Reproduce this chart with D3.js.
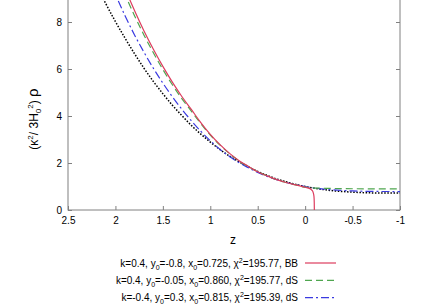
<!DOCTYPE html>
<html>
<head>
<meta charset="utf-8">
<script src="https://cdn.jsdelivr.net/npm/d3@7"></script>
<style>
body { margin: 0; background: #fff; }
text { font-family: "Liberation Sans", Arial, sans-serif; fill: #000; }
</style>
</head>
<body>
<div id="chart"></div>
<script>
// Energy density vs redshift
const width = 436;
const height = 305;

const zRed = [2.0, 1.9, 1.8, 1.7, 1.6, 1.5, 1.4, 1.3, 1.2, 1.1, 1.0, 0.9, 0.8, 0.7, 0.6, 0.5, 0.4, 0.3, 0.2, 0.1, 0,
    -0.05, -0.07, -0.085, -0.093, -0.096, -0.097];
const rhoRed = [10.45, 9.44, 8.5, 7.63, 6.84, 6.11, 5.44, 4.83, 4.28, 3.72, 3.22, 2.79, 2.42, 2.11, 1.86, 1.63, 1.45, 1.29, 1.17, 1.07, 0.97,
    0.91, 0.85, 0.74, 0.58, 0.32, 0];

const zGreen = [2.0, 1.9, 1.8, 1.7, 1.6, 1.5, 1.4, 1.3, 1.2, 1.1, 1.0, 0.9, 0.8, 0.7, 0.6, 0.5, 0.4, 0.3, 0.2, 0.1, 0,
    -0.25, -0.5, -0.75, -1];
const rhoGreen = [10.15, 9.18, 8.28, 7.45, 6.69, 5.98, 5.33, 4.74, 4.21, 3.68, 3.19, 2.77, 2.41, 2.1, 1.85, 1.63, 1.45, 1.29, 1.17, 1.07, 0.97,
    0.92, 0.905, 0.9, 0.9];

const zBlue = [2.1, 2.0, 1.9, 1.8, 1.7, 1.6, 1.5, 1.4, 1.3, 1.2, 1.1, 1.0, 0.9, 0.8, 0.7, 0.6, 0.5, 0.4, 0.3, 0.2, 0.1, 0,
    -0.25, -0.5, -0.75, -1];
const rhoBlue = [10.16, 9.18, 8.28, 7.46, 6.72, 6.03, 5.4, 4.82, 4.29, 3.8, 3.35, 2.95, 2.59, 2.29, 2.02, 1.8, 1.6, 1.43, 1.29, 1.17, 1.08, 1.0,
    0.87, 0.81, 0.79, 0.785];

const zBlack = [2.3, 2.2, 2.1, 2.0, 1.9, 1.8, 1.7, 1.6, 1.5, 1.4, 1.3, 1.2, 1.1, 1.0, 0.9, 0.8, 0.7, 0.6, 0.5, 0.4, 0.3, 0.2, 0.1, 0,
    -0.25, -0.5, -0.75, -1];
const rhoBlack = [10.43, 9.58, 8.77, 8.02, 7.32, 6.66, 6.04, 5.47, 4.95, 4.46, 4.02, 3.6, 3.23, 2.89, 2.58, 2.3, 2.06, 1.84, 1.64, 1.47, 1.32, 1.2, 1.09, 1.0,
    0.84, 0.76, 0.725, 0.72];

const xTicks = [2.5, 2, 1.5, 1, 0.5, 0, -0.5, -1];
const yTicks = [0, 2, 4, 6, 8];

// legend labels: [text, kind] pieces, kind "sub"/"sup"/""
const legendLabels = [
    [["k=0.4, y", ""], ["0", "sub"], ["=-0.8, x", ""], ["0", "sub"], ["=0.725, χ", ""], ["2", "sup"], ["=195.77, BB", ""]],
    [["k=0.4, y", ""], ["0", "sub"], ["=-0.05, x", ""], ["0", "sub"], ["=0.860, χ", ""], ["2", "sup"], ["=195.77, dS", ""]],
    [["k=-0.4, y", ""], ["0", "sub"], ["=0.3, x", ""], ["0", "sub"], ["=0.815, χ", ""], ["2", "sup"], ["=195.39, dS", ""]]
];

const series = [
    { z: zRed, rho: rhoRed, color: "#dd3c5e", dash: null, width: 1.2 },
    { z: zGreen, rho: rhoGreen, color: "#4fa64f", dash: "7,4", width: 1.2 },
    { z: zBlue, rho: rhoBlue, color: "#3a3ae0", dash: "8,3,2,3", width: 1.2 },
    { z: zBlack, rho: rhoBlack, color: "#000000", dash: "1.5,1.6", width: 1.5 }
];

const svg = d3.select("#chart")
    .append("svg")
    .attr("width", width)
    .attr("height", height);

const x = d3.scaleLinear().domain([2.5, -1]).range([68, 400]);
const y = d3.scaleLinear().domain([0, 10]).range([210, -25]);

const axisColor = "#808080";

// clip to plot area
svg.append("clipPath").attr("id", "plot-clip")
    .append("rect")
    .attr("x", x(2.5)).attr("y", y(10))
    .attr("width", x(-1) - x(2.5)).attr("height", y(0) - y(10));

// Bottom axis
const gx = svg.append("g")
    .attr("transform", `translate(0,${y(0)})`)
    .call(d3.axisBottom(x).tickValues(xTicks).tickSizeInner(-4).tickSizeOuter(0).tickPadding(7)
        .tickFormat(d => String(d)));

// Left axis
const gy = svg.append("g")
    .attr("transform", `translate(${x(2.5)},0)`)
    .call(d3.axisLeft(y).tickValues(yTicks).tickSizeInner(-4).tickSizeOuter(0).tickPadding(6)
        .tickFormat(d => String(d)));

// Right axis (ticks only)
const gr = svg.append("g")
    .attr("transform", `translate(${x(-1)},0)`)
    .call(d3.axisRight(y).tickValues(yTicks).tickSizeInner(-4).tickSizeOuter(0).tickFormat(""));

[gx, gy, gr].forEach(g => {
    g.select(".domain").remove();
    g.selectAll(".tick line").attr("stroke", axisColor);
    g.selectAll(".tick text")
        .attr("font-size", 10)
        .attr("font-family", "Liberation Sans, Arial, sans-serif")
        .attr("fill", "#000");
});

// frame
svg.append("rect")
    .attr("x", x(2.5)).attr("y", y(10))
    .attr("width", x(-1) - x(2.5)).attr("height", y(0) - y(10))
    .attr("fill", "none")
    .attr("stroke", axisColor)
    .attr("stroke-width", 1);

// curves
const line = d3.line()
    .x(d => x(d[0]))
    .y(d => y(d[1]))
    .curve(d3.curveMonotoneX);

const plot = svg.append("g").attr("clip-path", "url(#plot-clip)");

series.slice().reverse().forEach(s => {
    plot.append("path")
        .datum(s.z.map((z, i) => [z, s.rho[i]]))
        .attr("d", line)
        .attr("fill", "none")
        .attr("stroke", s.color)
        .attr("stroke-width", s.width)
        .attr("stroke-dasharray", s.dash);
});

// axis titles
svg.append("text")
    .attr("x", 233)
    .attr("y", 244)
    .attr("text-anchor", "middle")
    .attr("font-size", 12)
    .text("z");

const ylab = svg.append("text")
    .attr("transform", "translate(38,119) rotate(-90)")
    .attr("text-anchor", "middle")
    .attr("font-size", 12);
ylab.append("tspan").text("(κ");
ylab.append("tspan").attr("font-size", 8).attr("dy", -5).text("2");
ylab.append("tspan").attr("dy", 5).text("/ 3H");
ylab.append("tspan").attr("font-size", 8).attr("dy", 3).text("0");
ylab.append("tspan").attr("font-size", 8).attr("dy", -8).text("2");
ylab.append("tspan").attr("dy", 5).text(") ");
ylab.append("tspan").attr("font-size", 15).text("ρ");

// legend
const legend = svg.append("g");
legendLabels.forEach((parts, i) => {
    const cy = 263 + i * 17.3;
    const t = legend.append("text")
        .attr("x", 298)
        .attr("y", cy + 3.5)
        .attr("text-anchor", "end")
        .attr("font-size", 10);
    let shift = 0;
    parts.forEach(([str, kind]) => {
        const target = kind === "sub" ? 3 : kind === "sup" ? -4 : 0;
        t.append("tspan")
            .attr("dy", target - shift)
            .attr("font-size", kind ? 7 : 10)
            .text(str);
        shift = target;
    });
    const s = series[i];
    legend.append("line")
        .attr("x1", 305).attr("x2", 336)
        .attr("y1", cy).attr("y2", cy)
        .attr("stroke", s.color)
        .attr("stroke-width", s.width)
        .attr("stroke-dasharray", s.dash);
});
</script>
</body>
</html>
